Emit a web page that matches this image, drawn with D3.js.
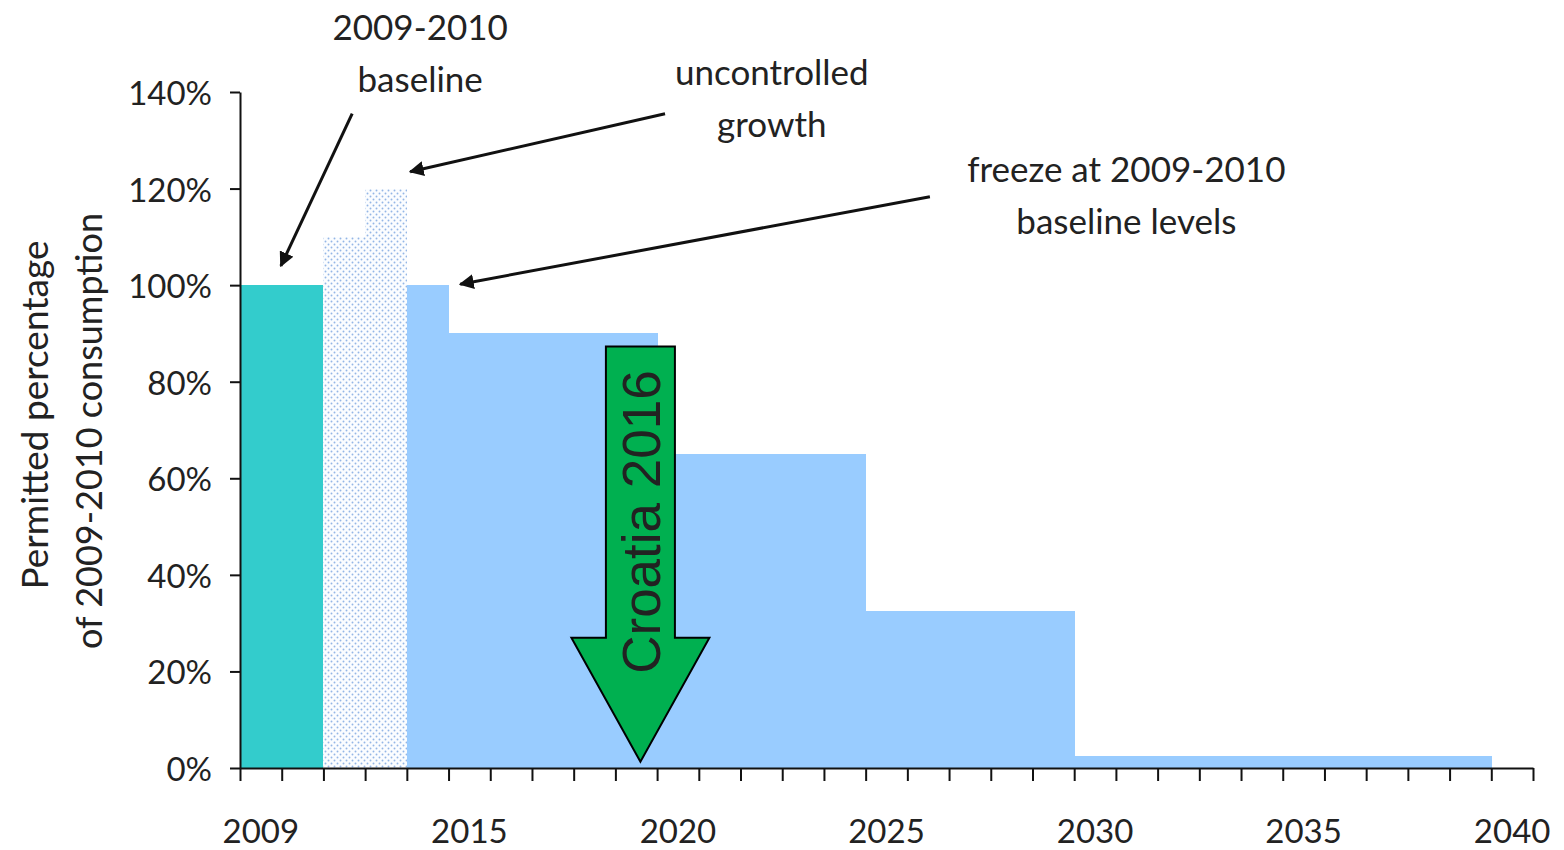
<!DOCTYPE html>
<html>
<head>
<meta charset="utf-8">
<script src="https://cdn.jsdelivr.net/npm/d3@7"></script>
<style>
  html, body { margin: 0; padding: 0; background: #fff; }
  svg { display: block; }
  text { font-family: Lato, "Open Sans", sans-serif; fill: #222; }
  rect.bar { shape-rendering: crispEdges; }
</style>
</head>
<body>
<svg id="chart" width="1564" height="850"></svg>
<script>
// ---- data ----
const bandCount = 31;                       // yearly categories on the axis
const xLabels = ["2009", "2015", "2020", "2025", "2030", "2035", "2040"];
const xLabelBands = [0, 5, 10, 15, 20, 25, 30];
const yTicks = [0, 20, 40, 60, 80, 100, 120, 140];

const baselineBars = [{ start: 0, end: 2, value: 100 }];
const growthBars = [{ start: 2, end: 3, value: 110 }, { start: 3, end: 4, value: 120 }];
const scheduleStarts = [4, 5, 10, 15, 20];
const scheduleEnds   = [5, 10, 15, 20, 30];
const scheduleValues = [100, 90, 65, 32.5, 2.5];

const annotations = [
  { lines: ["2009-2010", "baseline"], at: [4.32, 150.8], from: [2.69, 135.5], to: [0.98, 104] },
  { lines: ["uncontrolled", "growth"], at: [12.75, 141.4], from: [10.19, 135.5], to: [4.08, 123.5] },
  { lines: ["freeze at 2009-2010", "baseline levels"], at: [21.25, 121.4], from: [16.54, 118.3], to: [5.28, 100.2] }
];
const yTitleLines = ["Permitted percentage", "of 2009-2010 consumption"];
const croatia = { label: "Croatia 2016", band: 9.6, top: 87.3, headTop: 27, tip: 1.3 };

// ---- layout ----
const svg = d3.select("#chart");
const x = d3.scaleLinear().domain([0, bandCount]).range([240, 1533]);
const y = d3.scaleLinear().domain([0, 140]).range([768, 92]);

const defs = svg.append("defs");
const pat = defs.append("pattern").attr("id", "dots")
  .attr("width", 6).attr("height", 6).attr("patternUnits", "userSpaceOnUse");
pat.append("rect").attr("width", 6).attr("height", 6).attr("fill", "#fbfdff");
pat.append("circle").attr("cx", 1.5).attr("cy", 1.5).attr("r", 0.95).attr("fill", "#94b6e6");
pat.append("circle").attr("cx", 4.5).attr("cy", 4.5).attr("r", 0.95).attr("fill", "#94b6e6");

defs.append("marker").attr("id", "arrowhead")
  .attr("viewBox", "0 0 10 10").attr("refX", 9).attr("refY", 5)
  .attr("markerWidth", 5).attr("markerHeight", 5).attr("orient", "auto")
  .append("path").attr("d", "M0,0 L10,5 L0,10 z").attr("fill", "#111");

// bars
svg.append("g").selectAll("rect").data(baselineBars).join("rect").attr("class", "bar")
  .attr("x", d => x(d.start)).attr("width", d => x(d.end) - x(d.start))
  .attr("y", d => y(d.value)).attr("height", d => y(0) - y(d.value))
  .attr("fill", "#33cccc");

svg.append("g").selectAll("rect").data(growthBars).join("rect").attr("class", "bar")
  .attr("x", d => x(d.start)).attr("width", d => x(d.end) - x(d.start))
  .attr("y", d => y(d.value)).attr("height", d => y(0) - y(d.value))
  .attr("fill", "url(#dots)");

const schedule = scheduleValues.map((v, i) => ({ start: scheduleStarts[i], end: scheduleEnds[i], value: v }));
svg.append("g").selectAll("rect").data(schedule).join("rect").attr("class", "bar")
  .attr("x", d => x(d.start)).attr("width", d => x(d.end) - x(d.start) + 0.5)
  .attr("y", d => y(d.value)).attr("height", d => y(0) - y(d.value))
  .attr("fill", "#99ccff");

// y axis
const yAxis = svg.append("g").attr("transform", `translate(${x(0)},0)`)
  .call(d3.axisLeft(y).tickValues(yTicks).tickSize(10).tickSizeOuter(0).tickFormat(d => d + "%"));
yAxis.select(".domain").attr("stroke", "#111").attr("stroke-width", 2);
yAxis.selectAll(".tick line").attr("stroke", "#111").attr("stroke-width", 2);
yAxis.selectAll(".tick text").attr("x", -28).attr("dy", "0.38em")
  .style("font-size", "33px").style("font-family", "Lato, sans-serif").attr("fill", "#222");

// x axis
const xAxis = svg.append("g").attr("transform", `translate(0,${y(0)})`)
  .call(d3.axisBottom(x).tickValues(d3.range(0, bandCount + 1)).tickSize(13).tickSizeOuter(0).tickFormat(""));
xAxis.select(".domain").attr("stroke", "#111").attr("stroke-width", 2);
xAxis.selectAll(".tick line").attr("stroke", "#111").attr("stroke-width", 2);
svg.append("g").selectAll("text").data(xLabels).join("text")
  .attr("x", (d, i) => x(xLabelBands[i] + 0.5)).attr("y", 843)
  .attr("text-anchor", "middle").style("font-size", "33px").text(d => d);

// y axis title
svg.append("text").attr("transform", "translate(48,415) rotate(-90)")
  .attr("text-anchor", "middle").style("font-size", "37px").text(yTitleLines[0]);
svg.append("text").attr("transform", "translate(102,431) rotate(-90)")
  .attr("text-anchor", "middle").style("font-size", "36px").text(yTitleLines[1]);

// annotations
annotations.forEach(a => {
  const t = svg.append("text").attr("text-anchor", "middle").style("font-size", "35px");
  a.lines.forEach((l, i) => t.append("tspan").attr("x", x(a.at[0]))
    .attr("y", y(a.at[1]) + i * 52).text(l));
  svg.append("line")
    .attr("x1", x(a.from[0])).attr("y1", y(a.from[1]))
    .attr("x2", x(a.to[0])).attr("y2", y(a.to[1]))
    .attr("stroke", "#111").attr("stroke-width", 3)
    .attr("marker-end", "url(#arrowhead)");
});

// Croatia arrow
const cx = x(croatia.band), halfShaft = 34.5, halfHead = 69;
const arrowPath = [
  [cx - halfShaft, y(croatia.top)], [cx + halfShaft, y(croatia.top)],
  [cx + halfShaft, y(croatia.headTop)], [cx + halfHead, y(croatia.headTop)],
  [cx, y(croatia.tip)], [cx - halfHead, y(croatia.headTop)],
  [cx - halfShaft, y(croatia.headTop)]
];
svg.append("path").attr("d", d3.line()(arrowPath) + "Z")
  .attr("fill", "#00b050").attr("stroke", "#000").attr("stroke-width", 2);
svg.append("text")
  .attr("transform", `translate(${cx + 20},${(y(croatia.top) + y(croatia.headTop)) / 2 + 30}) rotate(-90)`)
  .attr("text-anchor", "middle")
  .style("font-family", "'Liberation Sans', Arial, sans-serif").style("font-size", "53px")
  .attr("fill", "#000").text(croatia.label);
</script>
</body>
</html>
